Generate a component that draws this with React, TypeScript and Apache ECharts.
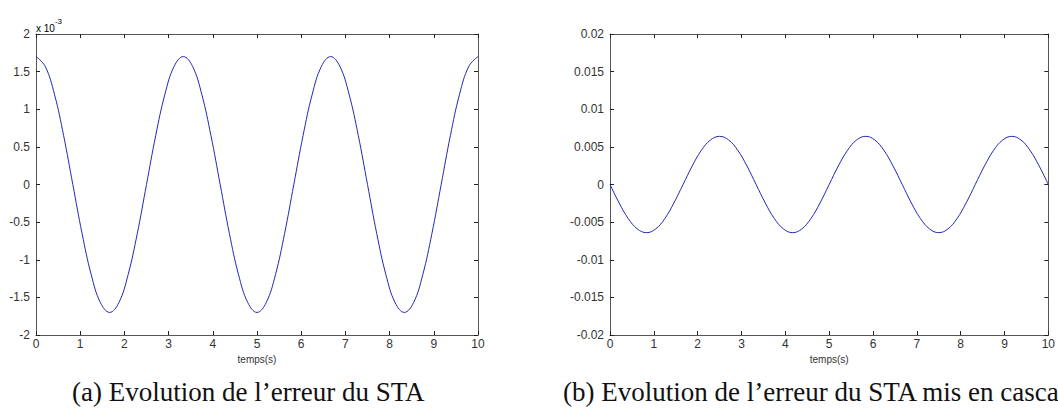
import React, { useEffect, useRef } from "react";
import * as echarts from "echarts";

const timeValues = [
  0, 0.208, 0.417, 0.625, 0.833, 1.042, 1.25, 1.458, 1.667, 1.875, 2.083, 2.292, 2.5, 2.708, 2.917, 3.125,
  3.333, 3.542, 3.75, 3.958, 4.167, 4.375, 4.583, 4.792, 5, 5.208, 5.417, 5.625, 5.833, 6.042, 6.25, 6.458,
  6.667, 6.875, 7.083, 7.292, 7.5, 7.708, 7.917, 8.125, 8.333, 8.542, 8.75, 8.958, 9.167, 9.375, 9.583, 9.792,
  10,
];

// erreur du STA, in units of 1e-3
const erreurSTA = [
  1.7, 1.57, 1.2, 0.65, 0, -0.65, -1.2, -1.57, -1.7, -1.57, -1.2, -0.65, 0, 0.65, 1.2, 1.57,
  1.7, 1.57, 1.2, 0.65, 0, -0.65, -1.2, -1.57, -1.7, -1.57, -1.2, -0.65, 0, 0.65, 1.2, 1.57,
  1.7, 1.57, 1.2, 0.65, 0, -0.65, -1.2, -1.57, -1.7, -1.57, -1.2, -0.65, 0, 0.65, 1.2, 1.57,
  1.7,
];

// erreur du STA mis en cascade
const erreurCascade = [
  0, -0.00245, -0.00453, -0.00591, -0.0064, -0.00591, -0.00453, -0.00245, 0, 0.00245, 0.00453, 0.00591, 0.0064, 0.00591, 0.00453, 0.00245,
  0, -0.00245, -0.00453, -0.00591, -0.0064, -0.00591, -0.00453, -0.00245, 0, 0.00245, 0.00453, 0.00591, 0.0064, 0.00591, 0.00453, 0.00245,
  0, -0.00245, -0.00453, -0.00591, -0.0064, -0.00591, -0.00453, -0.00245, 0, 0.00245, 0.00453, 0.00591, 0.0064, 0.00591, 0.00453, 0.00245,
  0,
];

const xAxisName = "temps(s)";
const captionA = "(a) Evolution de l\u2019erreur du STA";
const captionB = "(b) Evolution de l\u2019erreur du STA mis en cascade";

const AXIS_COLOR = "#555";
const LABEL_COLOR = "#333";
const LINE_COLOR = "#2626b4";
const FONT = "Liberation Sans";

const fmt = (v: number) => String(+v.toFixed(4));

function makeX(gridIndex: number, position: "bottom" | "top", showLabel: boolean) {
  return {
    type: "value",
    gridIndex,
    position,
    min: 0,
    max: 10,
    interval: 1,
    name: showLabel ? xAxisName : "",
    nameLocation: "middle",
    nameGap: 18,
    nameTextStyle: { fontFamily: FONT, fontSize: 10, color: LABEL_COLOR },
    axisLine: { show: true, onZero: false, lineStyle: { color: AXIS_COLOR, width: 1 } },
    axisTick: { show: true, inside: true, length: 4, lineStyle: { color: "#222" } },
    axisLabel: { show: showLabel, fontFamily: FONT, fontSize: 12, color: LABEL_COLOR, margin: 3, formatter: fmt },
    splitLine: { show: false },
  };
}

function makeY(gridIndex: number, position: "left" | "right", showLabel: boolean, min: number, max: number, interval: number) {
  return {
    type: "value",
    gridIndex,
    position,
    min,
    max,
    interval,
    axisLine: { show: true, onZero: false, lineStyle: { color: AXIS_COLOR, width: 1 } },
    axisTick: { show: true, inside: true, length: 4, lineStyle: { color: "#222" } },
    axisLabel: { show: showLabel, fontFamily: FONT, fontSize: 12, color: LABEL_COLOR, margin: 6, formatter: fmt },
    splitLine: { show: false },
  };
}

export default function App() {
  const ref = useRef<HTMLDivElement>(null);
  useEffect(() => {
    if (!ref.current) return;
    const chart = echarts.init(ref.current, undefined, { renderer: "svg" });
    const dataA = timeValues.map((t, i) => [t, erreurSTA[i]]);
    const dataB = timeValues.map((t, i) => [t, erreurCascade[i]]);
    chart.setOption({
      animation: false,
      backgroundColor: "#fff",
      grid: [
        { left: 36, top: 34, width: 442, height: 301, containLabel: false },
        { left: 610, top: 34, width: 443, height: 301, containLabel: false },
      ],
      xAxis: [makeX(0, "bottom", true), makeX(0, "top", false), makeX(1, "bottom", true), makeX(1, "top", false)],
      yAxis: [
        makeY(0, "left", true, -2, 2, 0.5),
        makeY(0, "right", false, -2, 2, 0.5),
        makeY(1, "left", true, -0.02, 0.02, 0.005),
        makeY(1, "right", false, -0.02, 0.02, 0.005),
      ],
      series: [
        {
          type: "line",
          xAxisIndex: 0,
          yAxisIndex: 0,
          data: dataA,
          smooth: 0.4,
          showSymbol: false,
          lineStyle: { color: LINE_COLOR, width: 1 },
        },
        {
          type: "line",
          xAxisIndex: 2,
          yAxisIndex: 2,
          data: dataB,
          smooth: 0.4,
          showSymbol: false,
          lineStyle: { color: LINE_COLOR, width: 1 },
        },
      ],
      graphic: [
        {
          type: "text",
          left: 36,
          top: 17,
          style: {
            text: "{a|x 10}{b|-3}",
            rich: {
              a: { fontFamily: FONT, fontSize: 10, color: LABEL_COLOR, verticalAlign: "bottom", padding: [6, 0, 0, 0] },
              b: { fontFamily: FONT, fontSize: 8, color: LABEL_COLOR, verticalAlign: "top", padding: [0, 0, 6, 0] },
            },
          },
        },
        {
          type: "text",
          left: 72,
          top: 378,
          style: { text: captionA, fontFamily: "Liberation Serif", fontSize: 27, fill: "#111" },
        },
        {
          type: "text",
          left: 563,
          top: 378,
          style: { text: captionB, fontFamily: "Liberation Serif", fontSize: 27, fill: "#111" },
        },
      ],
    });
    return () => chart.dispose();
  }, []);
  return <div ref={ref} style={{ position: "fixed", left: 0, top: 0, width: 1058, height: 416 }} />;
}
